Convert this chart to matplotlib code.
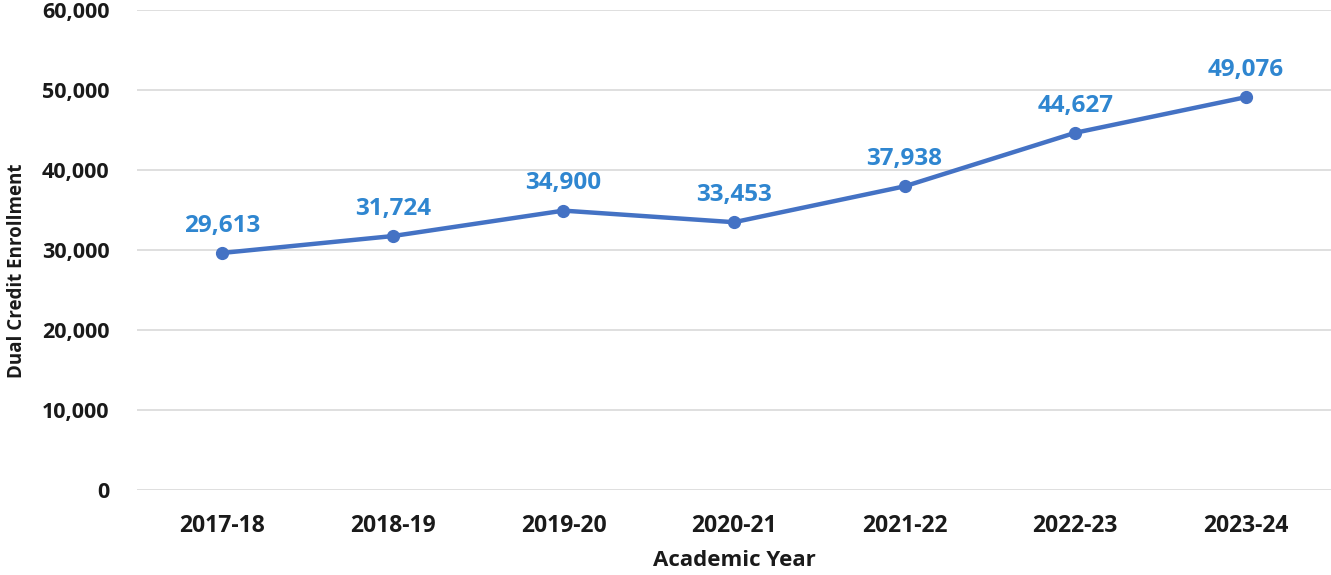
import matplotlib
matplotlib.use("Agg")
import matplotlib.pyplot as plt
from matplotlib.ticker import FuncFormatter

years = ["2017-18", "2018-19", "2019-20", "2020-21", "2021-22", "2022-23", "2023-24"]
enrollment = [29613, 31724, 34900, 33453, 37938, 44627, 49076]

plt.rcParams['font.family'] = ['Open Sans', 'DejaVu Sans']

fig = plt.figure(figsize=(13.31, 5.75), dpi=100)
ax = fig.add_axes([0.103, 0.148, 0.897, 0.835])

x = list(range(len(years)))
ax.plot(x, enrollment, color='#4472C4', linewidth=3.2, marker='o', markersize=8.5, zorder=3)

for xi, v in zip(x, enrollment):
    ax.annotate(f"{v:,}", (xi, v), xytext=(0, 11), textcoords='offset points',
                ha='center', va='bottom', color='#2F86D0', fontsize=17.5, fontweight='bold')

ax.set_xlim(-0.5, len(years) - 0.5)
ax.set_ylim(0, 60000)
ax.set_yticks(range(0, 60001, 10000))
ax.yaxis.set_major_formatter(FuncFormatter(lambda v, p: f"{int(v):,}"))
ax.set_xticks(x)
ax.set_xticklabels(years)
ax.grid(axis='y', color='#D9D9D9', linewidth=1.2)
ax.set_axisbelow(True)
for s in ax.spines.values():
    s.set_visible(False)
ax.tick_params(length=0, labelsize=15.5)
ax.tick_params(axis='x', labelsize=16.5, pad=17)
ax.tick_params(axis='y', pad=20)
for lab in ax.get_xticklabels() + ax.get_yticklabels():
    lab.set_fontweight('bold')
    lab.set_color('#1A1A1A')

ax.set_xlabel("Academic Year", fontsize=16, fontweight='bold', color='#1A1A1A', labelpad=9)
ax.set_ylabel("Dual Credit Enrollment", fontsize=13.5, fontweight='bold', color='#1A1A1A')
ax.yaxis.set_label_coords(-0.092, 0.456)

fig.savefig("out.png", dpi=100)
